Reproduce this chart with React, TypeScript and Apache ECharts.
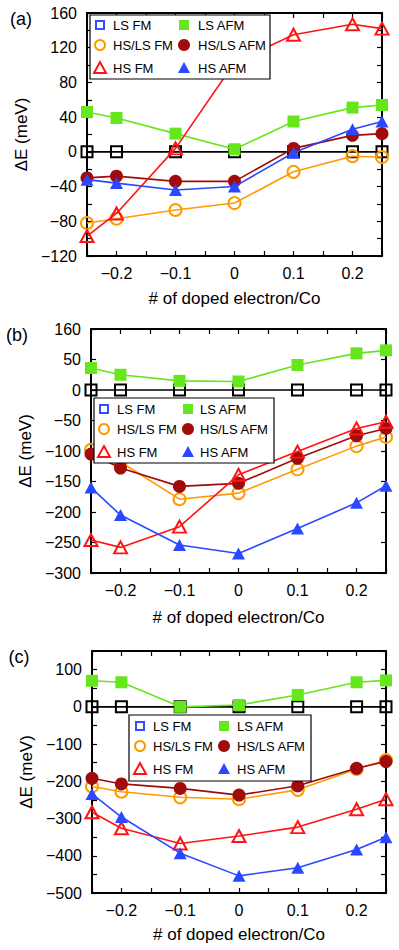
import React, { useEffect, useRef } from "react";
import * as echarts from "echarts";

const X = [-0.25, -0.2, -0.1, 0, 0.1, 0.2, 0.25];
const SERIES_NAMES = ["LS FM", "LS AFM", "HS/LS FM", "HS/LS AFM", "HS FM", "HS AFM"];

// Panel (a)
const lsFmA = [0, 0, 0, 0, 0, 0, 0];
const lsAfmA = [46, 39, 21, 3, 35, 51, 54];
const hsLsFmA = [-82, -77, -67, -59, -23, -5, -6];
const hsLsAfmA = [-30, -28, -34, -34, 4, 19, 21];
const hsFmA = [-97, -71, 4, 103, 135, 147, 142];
const hsAfmA = [-32, -36, -44, -40, -1, 26, 35];

// Panel (b)
const lsFmB = [0, 0, 0, 0, 0, 0, 0];
const lsAfmB = [36, 25, 15, 14, 41, 60, 65];
const hsLsFmB = [-98, -118, -179, -169, -130, -92, -77];
const hsLsAfmB = [-105, -128, -158, -153, -112, -75, -63];
const hsFmB = [-246, -258, -224, -139, -101, -63, -52];
const hsAfmB = [-160, -205, -254, -268, -227, -185, -157];

// Panel (c)
const lsFmC = [0, 0, 0, 0, 0, 0, 0];
const lsAfmC = [70, 66, 0, 5, 32, 66, 71];
const hsLsFmC = [-214, -228, -243, -248, -223, -167, -143];
const hsLsAfmC = [-192, -207, -219, -237, -212, -165, -147];
const hsFmC = [-283, -326, -367, -347, -323, -275, -248];
const hsAfmC = [-234, -296, -393, -454, -432, -383, -350];

const PANEL_LABELS = ["(a)", "(b)", "(c)"];
const X_NAME = "# of doped electron/Co";
const Y_NAME = "ΔE (meV)";

const FONT = "Liberation Sans, Arial, Helvetica, sans-serif";
const C_BLACK = "#000000";
const C_LSFM_LEG = "#3050ff";
const C_GREEN = "#66e61c";
const C_ORANGE = "#ff9a00";
const C_DRED = "#a00b0b";
const C_RED = "#ff1414";
const C_BLUE = "#2a48ff";

const fmtNum = (v: number) => {
  const r = Math.round(v * 1000) / 1000;
  return r < 0 ? "\u2212" + String(Math.abs(r)) : String(r);
};

type Style = { color: string; symbol: string; open: boolean; size: number };
const STYLES: Style[] = [
  { color: C_BLACK, symbol: "rect", open: true, size: 11 },
  { color: C_GREEN, symbol: "rect", open: false, size: 12 },
  { color: C_ORANGE, symbol: "circle", open: true, size: 12 },
  { color: C_DRED, symbol: "circle", open: false, size: 13 },
  { color: C_RED, symbol: "triangle", open: true, size: 13 },
  { color: C_BLUE, symbol: "triangle", open: false, size: 13 },
];

export default function App() {
  const ref = useRef<HTMLDivElement>(null);
  useEffect(() => {
    if (!ref.current) return;
    const chart = echarts.init(ref.current, null, { renderer: "svg" });

    const grids = [
      { left: 87, top: 13, width: 295, height: 243 },
      { left: 91, top: 329, width: 295, height: 244 },
      { left: 92, top: 651, width: 294, height: 242 },
    ];
    const yCfg = [
      { min: -120, max: 160, interval: 20, fmt: (v: number) => (Math.abs(v % 40) < 1e-6 ? fmtNum(v) : "") },
      { min: -300, max: 100, interval: 50, fmt: (v: number) => (v === 100 ? "160" : fmtNum(v)) },
      { min: -500, max: 150, interval: 50, fmt: (v: number) => (Math.abs(v % 100) < 1e-6 && v <= 100 ? fmtNum(v) : "") },
    ];
    const xNameGaps = [34, 36, 33];
    const data = [
      [lsFmA, lsAfmA, hsLsFmA, hsLsAfmA, hsFmA, hsAfmA],
      [lsFmB, lsAfmB, hsLsFmB, hsLsAfmB, hsFmB, hsAfmB],
      [lsFmC, lsAfmC, hsLsFmC, hsLsAfmC, hsFmC, hsAfmC],
    ];

    const tick = { show: true, inside: true, length: 5, lineStyle: { color: "#000", width: 1.2 } };
    const noLine = { show: false, onZero: false };
    const xAxis: any[] = [];
    const yAxis: any[] = [];
    const series: any[] = [];
    grids.forEach((g, gi) => {
      const xl = (v: number) => {
        const k = v * 10;
        return Math.abs(k - Math.round(k)) < 1e-6 ? fmtNum(v) : "";
      };
      xAxis.push({
        type: "value", gridIndex: gi, position: "bottom", min: -0.25, max: 0.25, interval: 0.05,
        name: X_NAME, nameLocation: "middle", nameGap: xNameGaps[gi],
        nameTextStyle: { fontSize: 17, fontFamily: FONT, color: "#000" },
        axisLine: noLine, axisTick: tick, splitLine: { show: false },
        axisLabel: { formatter: xl, fontSize: 16, fontFamily: FONT, color: "#000", margin: 9, showMinLabel: true, showMaxLabel: true },
      });
      xAxis.push({
        type: "value", gridIndex: gi, position: "top", min: -0.25, max: 0.25, interval: 0.05,
        axisLine: noLine, axisTick: tick, splitLine: { show: false }, axisLabel: { show: false },
      });
      const yc = yCfg[gi];
      yAxis.push({
        type: "value", gridIndex: gi, position: "left", min: yc.min, max: yc.max, interval: yc.interval,
        name: Y_NAME, nameLocation: "middle", nameGap: 52, nameRotate: 90,
        nameTextStyle: { fontSize: 17, fontFamily: FONT, color: "#000" },
        axisLine: noLine, axisTick: tick, splitLine: { show: false },
        axisLabel: { formatter: yc.fmt, fontSize: 16, fontFamily: FONT, color: "#000", margin: 10, showMinLabel: true, showMaxLabel: true },
      });
      yAxis.push({
        type: "value", gridIndex: gi, position: "right", min: yc.min, max: yc.max, interval: yc.interval,
        axisLine: noLine, axisTick: tick, splitLine: { show: false }, axisLabel: { show: false },
      });
      data[gi].forEach((vals, si) => {
        const st = STYLES[si];
        series.push({
          type: "line",
          name: SERIES_NAMES[si],
          xAxisIndex: gi * 2,
          yAxisIndex: gi * 2,
          data: X.map((x, i) => [x, vals[i]]),
          symbol: st.symbol,
          symbolSize: st.symbol === "triangle" ? [st.size, st.size - 1] : st.size,
          showAllSymbol: true,
          clip: false,
          lineStyle: { color: st.color, width: 1.6 },
          itemStyle: st.open
            ? { color: "rgba(0,0,0,0)", borderColor: st.color, borderWidth: 2 }
            : { color: st.color, borderWidth: 0 },
          emphasis: { disabled: true },
          z: 2 + si * 0.1,
        });
      });
    });

    // legends
    const legends = [
      { box: [90, 15, 180, 64], rows: [25, 45, 68], cols: [100, 113, 184, 198] },
      { box: [94, 398, 180, 65], rows: [409, 429, 452], cols: [104, 117, 188, 200] },
      { box: [129, 715, 182, 66], rows: [726, 746, 769], cols: [140, 153, 224, 237] },
    ];
    const legendColors = [C_LSFM_LEG, C_GREEN, C_ORANGE, C_DRED, C_RED, C_BLUE];
    const graphic: any[] = [];
    const sym = (kind: string, open: boolean, color: string, cx: number, cy: number) => {
      const z = 101;
      const st = open ? { fill: "none", stroke: color, lineWidth: 2 } : { fill: color, stroke: "none" };
      if (kind === "rect") {
        const s = open ? 8 : 10;
        return { type: "rect", z, shape: { x: cx - s / 2, y: cy - s / 2, width: s, height: s }, style: st };
      }
      if (kind === "circle") {
        return { type: "circle", z, shape: { cx, cy, r: open ? 5 : 6 }, style: st };
      }
      const w = 6;
      return {
        type: "polygon", z,
        shape: { points: [[cx - w, cy + 5], [cx + w, cy + 5], [cx, cy - 6]] },
        style: st,
      };
    };
    legends.forEach((L) => {
      graphic.push({
        type: "rect", z: 100,
        shape: { x: L.box[0], y: L.box[1], width: L.box[2], height: L.box[3] },
        style: { fill: "#fff", stroke: "#000", lineWidth: 1.2 },
      });
      SERIES_NAMES.forEach((nm, si) => {
        const col = si % 2;
        const row = Math.floor(si / 2);
        const cy = L.rows[row];
        const sx = L.cols[col * 2];
        const tx = L.cols[col * 2 + 1];
        const st = STYLES[si];
        graphic.push(sym(st.symbol, st.open, legendColors[si], sx, cy));
        graphic.push({
          type: "text", z: 101,
          style: { text: nm, x: tx, y: cy, fill: "#000", fontSize: 13, fontFamily: FONT, verticalAlign: "middle", align: "left" },
        });
      });
    });
    const labelPos = [[21, 19], [17, 335], [19, 657]];
    PANEL_LABELS.forEach((t, i) => {
      graphic.push({
        type: "text", z: 101,
        style: { text: t, x: labelPos[i][0], y: labelPos[i][1], fill: "#000", fontSize: 18, fontFamily: FONT, align: "center", verticalAlign: "middle" },
      });
    });

    chart.setOption({
      animation: false,
      backgroundColor: "#fff",
      grid: grids.map((g) => ({ ...g, show: true, borderColor: "#000", borderWidth: 2, backgroundColor: "transparent" })),
      xAxis,
      yAxis,
      series,
      graphic,
    });
    return () => chart.dispose();
  }, []);
  return (
    <div
      ref={ref}
      style={{ position: "fixed", left: 0, top: 0, width: 399, height: 950, background: "#fff" }}
    />
  );
}
